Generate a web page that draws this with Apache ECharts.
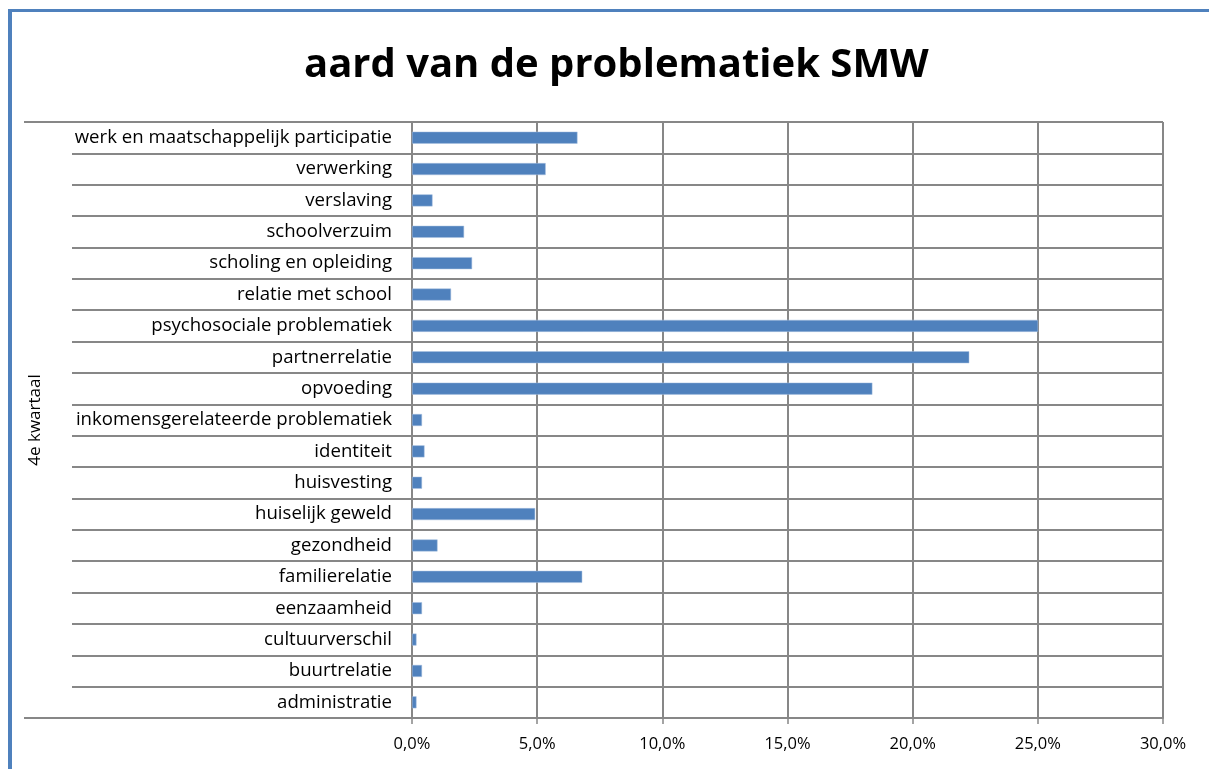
<!DOCTYPE html>
<html>
<head>
<meta charset="utf-8">
<script src="https://cdn.jsdelivr.net/npm/echarts@6/dist/echarts.min.js"></script>
<style>
  body { margin: 0; background: #fff; }
  #main { position: absolute; left: 0; top: 0; width: 1209px; height: 769px; }
  #frame { position: absolute; left: 8px; top: 9px; width: 1200px; height: 770px;
           border-left: 4px solid #4f81bd; border-top: 3px solid #4f81bd; pointer-events: none; }
</style>
</head>
<body>
<div id="main"></div>
<div id="frame"></div>
<script>
// categorieën (van onder naar boven, zoals in de grafiek)
const categories = [
  'administratie', 'buurtrelatie', 'cultuurverschil', 'eenzaamheid', 'familierelatie',
  'gezondheid', 'huiselijk geweld', 'huisvesting', 'identiteit',
  'inkomensgerelateerde problematiek', 'opvoeding', 'partnerrelatie',
  'psychosociale problematiek', 'relatie met school', 'scholing en opleiding',
  'schoolverzuim', 'verslaving', 'verwerking', 'werk en maatschappelijk participatie'
];
// percentages
const values = [
  0.18, 0.40, 0.18, 0.40, 6.80,
  1.02, 4.92, 0.40, 0.50,
  0.40, 18.39, 22.26,
  25.01, 1.56, 2.40,
  2.08, 0.82, 5.34, 6.61
];
const periods = ['4e kwartaal'];
const xTicks = [0, 5, 10, 15, 20, 25, 30];

const chart = echarts.init(document.getElementById('main'));
const gray = '#878787';
const font = 'Open Sans';

const option = {
  animation: false,
  title: {
    text: 'aard van de problematiek SMW',
    left: 299,
    top: 41,
    textStyle: { fontFamily: font, fontWeight: 'bold', fontSize: 40, color: '#000' }
  },
  grid: { left: 412, right: 46, top: 122, bottom: 51 },
  xAxis: {
    type: 'value',
    min: xTicks[0],
    max: xTicks[xTicks.length - 1],
    interval: 5,
    axisLine: { show: true, lineStyle: { color: gray, width: 2 } },
    axisTick: { show: true, length: 6, lineStyle: { color: gray, width: 1.5 } },
    splitLine: { show: true, lineStyle: { color: gray, width: 2 } },
    axisLabel: {
      margin: 18,
      fontFamily: font, fontSize: 16.5, color: '#000',
      formatter: v => v.toFixed(1).replace('.', ',') + '%'
    }
  },
  yAxis: [
    {
      type: 'category',
      data: categories,
      axisLine: { show: true, lineStyle: { color: gray, width: 2 } },
      axisTick: { show: true, length: 340, lineStyle: { color: gray, width: 2 } },
      splitLine: { show: true, lineStyle: { color: gray, width: 2 } },
      axisLabel: { margin: 20, fontFamily: font, fontSize: 18.6, color: '#000' }
    },
    {
      type: 'category',
      data: periods,
      position: 'left',
      axisLine: { show: false },
      axisTick: { show: true, length: 388, lineStyle: { color: gray, width: 2 } },
      splitLine: { show: false },
      axisLabel: { show: false },
      name: periods[0],
      nameLocation: 'middle',
      nameRotate: 90,
      nameGap: 368,
      nameTextStyle: { fontFamily: font, fontSize: 17, color: '#000' }
    }
  ],
  series: [{
    type: 'bar',
    data: values,
    barWidth: 12,
    itemStyle: { color: '#4f81bd', borderColor: '#a9c1e0', borderWidth: 0.5 }
  }]
};

chart.setOption(option);
</script>
</body>
</html>
